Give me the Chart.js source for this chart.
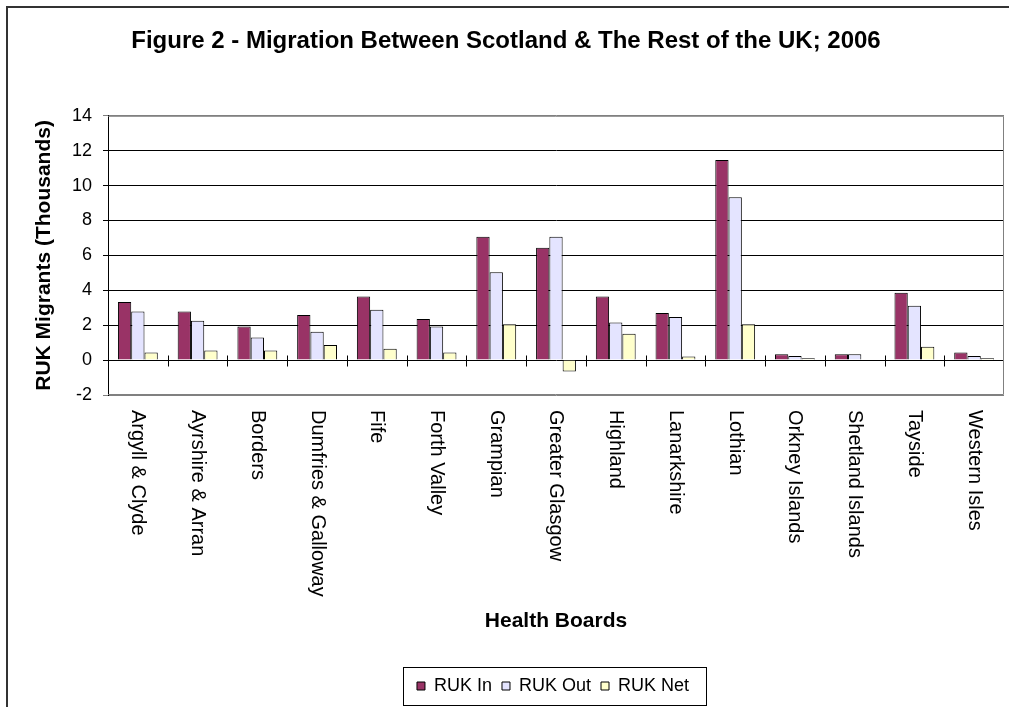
<!DOCTYPE html>
<html>
<head>
<meta charset="utf-8">
<title>Migration Between Scotland & The Rest of the UK; 2006</title>
<script src="https://cdn.jsdelivr.net/npm/chart.js@4.4.1/dist/chart.umd.min.js"></script>
<style>
  html, body { margin: 0; padding: 0; background: #fff; }
  canvas { display: block; }
</style>
</head>
<body>
<canvas id="chart" width="1009" height="707"></canvas>
<script>
// Health boards (categories)
const categories = [
  "Argyll & Clyde", "Ayrshire & Arran", "Borders", "Dumfries & Galloway", "Fife",
  "Forth Valley", "Grampian", "Greater Glasgow", "Highland", "Lanarkshire",
  "Lothian", "Orkney Islands", "Shetland Islands", "Tayside", "Western Isles"
];

// Values, thousands
const rukIn  = [3.33, 2.79, 1.93, 2.58, 3.65, 2.35, 7.07, 6.44, 3.65, 2.70, 11.47, 0.33, 0.33, 3.86, 0.44];
const rukOut = [2.79, 2.26, 1.30, 1.63, 2.89, 1.93, 5.03, 7.07, 2.16, 2.47, 9.33, 0.23, 0.33, 3.12, 0.23];
const rukNet = [0.44, 0.55, 0.55, 0.86, 0.65, 0.44, 2.05, -0.65, 1.51, 0.21, 2.05, 0.11, 0.00, 0.76, 0.11];

const seriesNames = ["RUK In", "RUK Out", "RUK Net"];
const yTicks = [-2, 0, 2, 4, 6, 8, 10, 12, 14];

const FONT = "'Liberation Sans', Arial, sans-serif";

// extra drawing: plot frame, ticks on the zero line, rotated category labels, legend box, outer frame
const excelBits = {
  id: 'excelBits',
  afterLayout(chart) {
    // the legend sits a little right of centre in the original
    const lg = chart.legend;
    lg.left += 47;
    lg.right += 47;
    lg.top += 1;
    lg.bottom += 1;
  },
  beforeDatasetsDraw(chart) {
    const { ctx, chartArea: a, scales: { y } } = chart;
    ctx.save();
    ctx.strokeStyle = '#808080';
    ctx.lineWidth = 1;
    ctx.beginPath();
    ctx.moveTo(a.left, a.top + 0.5);
    ctx.lineTo(a.right - 0.5, a.top + 0.5);
    ctx.lineTo(a.right - 0.5, a.bottom - 0.5);
    ctx.lineTo(a.left, a.bottom - 0.5);
    ctx.stroke();

    const y0 = Math.round(y.getPixelForValue(0)) + 0.5;
    const w = (a.right - a.left) / categories.length;
    ctx.strokeStyle = '#000';
    ctx.beginPath();
    for (let i = 1; i < categories.length; i++) {
      const px = Math.round(a.left + i * w) + 0.5;
      ctx.moveTo(px, y0 - 5);
      ctx.lineTo(px, y0 + 6);
    }
    ctx.stroke();
    ctx.restore();
  },
  afterDraw(chart) {
    const { ctx, chartArea: a, scales: { x } } = chart;
    ctx.save();

    // category labels, reading top to bottom
    ctx.fillStyle = '#000';
    ctx.font = "20px " + FONT;
    ctx.textAlign = 'left';
    ctx.textBaseline = 'middle';
    categories.forEach((c, i) => {
      const px = x.getPixelForValue(i);
      ctx.save();
      ctx.translate(px, a.bottom + 15);
      ctx.rotate(Math.PI / 2);
      ctx.fillText(c, 0, 0);
      ctx.restore();
    });

    // legend border
    const boxes = chart.legend.legendHitBoxes;
    if (boxes && boxes.length) {
      const l = Math.min(...boxes.map(b => b.left));
      const r = Math.max(...boxes.map(b => b.left + b.width));
      const mid = (l + r) / 2 + 1.5;
      const t = boxes[0].top - 10;
      const b = boxes[0].top + boxes[0].height + 10;
      ctx.strokeStyle = '#000';
      ctx.lineWidth = 1;
      ctx.strokeRect(Math.round(mid - 151.5) + 0.5, Math.round(t) + 0.5, 303, Math.round(b - t));
    }

    // outer chart frame (only left and top edges are in view)
    ctx.fillStyle = '#333';
    ctx.fillRect(6, 6, 2, chart.height - 6);
    ctx.fillRect(6, 6, chart.width - 6, 2);
    ctx.restore();
  }
};

const ctx = document.getElementById('chart').getContext('2d');
const chart = new Chart(ctx, {
  type: 'bar',
  data: {
    labels: categories,
    datasets: [
      { label: seriesNames[0], data: rukIn,  backgroundColor: '#993366', borderColor: '#000', borderWidth: 1 },
      { label: seriesNames[1], data: rukOut, backgroundColor: '#E4E4FF', borderColor: '#000', borderWidth: 1 },
      { label: seriesNames[2], data: rukNet, backgroundColor: '#FFFFCC', borderColor: '#000', borderWidth: 1 }
    ]
  },
  options: {
    responsive: false,
    animation: false,
    layout: { padding: { left: 8, right: 5, top: 0, bottom: 3 } },
    datasets: {
      bar: { categoryPercentage: 0.667, barPercentage: 1.0 }
    },
    plugins: {
      title: {
        display: true,
        text: 'Figure 2 - Migration Between Scotland & The Rest of the UK; 2006',
        color: '#000',
        font: { family: FONT, size: 24, weight: 'bold' },
        padding: { top: 27, bottom: 60 }
      },
      legend: {
        position: 'bottom',
        labels: {
          color: '#000',
          font: { family: FONT, size: 18 },
          boxWidth: 8,
          boxHeight: 8,
          padding: 10
        }
      },
      tooltip: { enabled: false }
    },
    scales: {
      x: {
        grid: { display: false },
        border: { display: false },
        ticks: { display: false },
        title: {
          display: true,
          text: 'Health Boards',
          color: '#000',
          font: { family: FONT, size: 21, weight: 'bold' },
          padding: { top: 0, bottom: 32 }
        },
        afterFit(scale) { scale.height = 271; }
      },
      y: {
        min: -2,
        max: 14,
        afterBuildTicks(scale) { scale.ticks = yTicks.map(v => ({ value: v })); },
        grid: {
          color: c => (c.tick && (c.tick.value === 14 || c.tick.value === -2)) ? '#808080' : '#000',
          lineWidth: 1,
          tickLength: 5,
          drawTicks: true
        },
        border: { display: true, color: '#000', width: 1 },
        ticks: {
          color: '#000',
          font: { family: FONT, size: 18 },
          padding: 11
        },
        title: {
          display: true,
          text: 'RUK Migrants (Thousands)',
          color: '#000',
          font: { family: FONT, size: 21, weight: 'bold' },
          padding: { top: 24, bottom: 0 }
        },
        afterFit(scale) { scale.width = 100; }
      }
    }
  },
  plugins: [excelBits]
});
</script>
</body>
</html>
